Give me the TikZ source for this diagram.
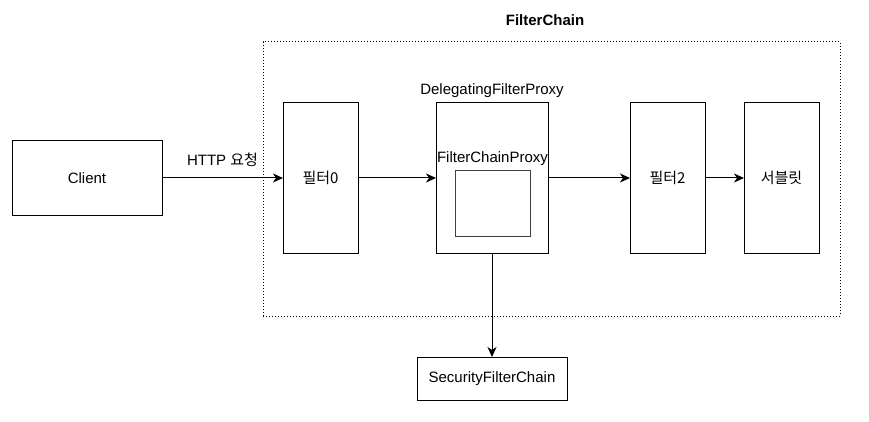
\documentclass[tikz,border=0pt]{standalone}
\usepackage{fontspec}
\setmainfont{Liberation Sans}
\newfontfamily\kr{Noto Sans CJK KR}
\usetikzlibrary{arrows.meta,positioning}

\begin{document}
\begin{tikzpicture}[
  x=1pt, y=-1pt,
  every node/.style={font=\fontsize{15}{17}\selectfont},
  box/.style={draw, rectangle, line width=1pt, align=center, inner sep=0pt, outer sep=0pt},
  tall/.style={box, minimum width=75pt, minimum height=150pt},
  tag/.style={inner sep=1pt},
  arrow/.style={-{Stealth[length=10pt,width=9pt,inset=3pt]}, line width=1pt}
]
\useasboundingbox (0,0) rectangle (869,422);

% dotted group frame
\node (chain) [draw, dotted, line width=1pt, minimum width=577pt, minimum height=274pt, inner sep=0pt] at (551.5,179) {};
\node (title) [tag, font=\fontsize{15}{17}\selectfont\bfseries] at (545,20) {FilterChain};

\node (client) [box, minimum width=150pt, minimum height=74pt] at (87,178) {Client};
\node (f0) [tall, right=121pt of client] {\kr 필터0};
\node (dfp) [tall, minimum width=112pt, right=78pt of f0] {};
\node (f2) [tall, right=82pt of dfp] {\kr 필터2};
\node (servlet) [tall, right=39pt of f2] {\kr 서블릿};
\node (sfc) [box, minimum width=150pt, minimum height=43pt, below=104pt of dfp] {SecurityFilterChain};

\node (dfplabel) [tag, above=4pt of dfp] {DelegatingFilterProxy};
\node (fcp) [box, draw=black!75, minimum width=75pt, minimum height=65pt] at (492.5,203.5) {};
\node (fcplabel) [tag, above=4pt of fcp] {FilterChainProxy};

\draw[arrow] (client) -- node[tag, above=10pt] {HTTP \kr 요청} (f0);
\draw[arrow] (f0) -- (dfp);
\draw[arrow] (dfp) -- (f2);
\draw[arrow] (f2) -- (servlet);
\draw[arrow] (dfp) -- (sfc);
\end{tikzpicture}
\end{document}
